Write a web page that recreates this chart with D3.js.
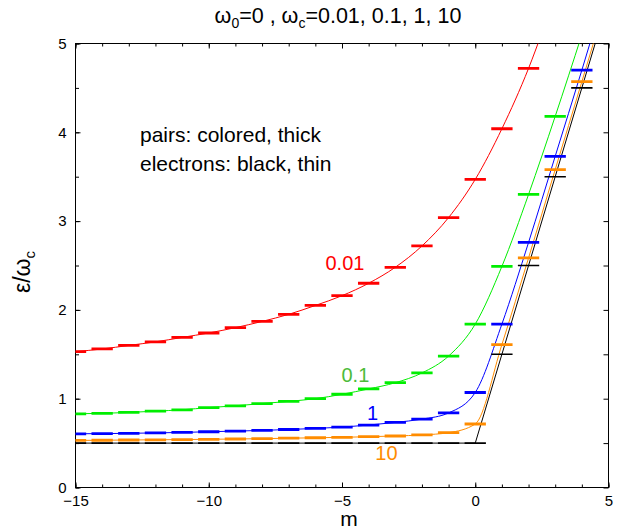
<!DOCTYPE html>
<html>
<head>
<meta charset="utf-8">
<script src="https://cdn.jsdelivr.net/npm/d3@7"></script>
<style>
  html, body { margin: 0; padding: 0; background: #fff; }
  svg text { font-family: "Liberation Sans", Arial, Helvetica, sans-serif; }
</style>
</head>
<body>
<svg id="chart" width="621" height="531"></svg>
<script>
// m values (angular momentum) and energies eps/omega_c
const mValues = [-15, -14, -13, -12, -11, -10, -9, -8, -7, -6, -5, -4, -3, -2, -1, 0, 1, 2, 3, 4, 5]

const pairs001 = [1.53, 1.56, 1.60, 1.64, 1.69, 1.74, 1.80, 1.87, 1.95, 2.05, 2.16, 2.30, 2.48, 2.72, 3.04, 3.47, 4.04, 4.72, 5.55, 6.45, 7.4]
const pairs01 = [0.83, 0.835, 0.845, 0.86, 0.875, 0.90, 0.92, 0.945, 0.97, 1.00, 1.05, 1.11, 1.18, 1.29, 1.48, 1.84, 2.49, 3.30, 4.18, 5.10, 6.05]
const pairs1 = [0.605, 0.607, 0.61, 0.615, 0.62, 0.628, 0.635, 0.643, 0.653, 0.665, 0.68, 0.703, 0.733, 0.77, 0.84, 1.07, 1.84, 2.76, 3.73, 4.70, 5.70]
const pairs10 = [0.53, 0.532, 0.535, 0.537, 0.54, 0.543, 0.546, 0.55, 0.555, 0.56, 0.565, 0.572, 0.58, 0.592, 0.617, 0.715, 1.61, 2.585, 3.58, 4.57, 5.57]
const electrons = [0.5, 0.5, 0.5, 0.5, 0.5, 0.5, 0.5, 0.5, 0.5, 0.5, 0.5, 0.5, 0.5, 0.5, 0.5, 0.5, 1.5, 2.5, 3.5, 4.5, 5.5]

const seriesNames = ["0.01", "0.1", "1", "10"]
const seriesColors = ["#ff0000", "#00ee00", "#0000ff", "#ff8c00"]
const labelColors = ["#ff0000", "#4cbb3a", "#0000ff", "#ff8c00"]
const xTicks = [-15, -10, -5, 0, 5]
const yTicks = [0, 1, 2, 3, 4, 5]

const margin = { top: 43.5, right: 12.5, bottom: 43.5, left: 75.5 }
const width = 621, height = 531

const svg = d3.select("#chart")

const x = d3.scaleLinear().domain([-15, 5]).range([margin.left, width - margin.right])
const y = d3.scaleLinear().domain([0, 5]).range([height - margin.bottom, margin.top])

svg.append("clipPath").attr("id", "plotclip")
	.append("rect")
	.attr("x", margin.left).attr("y", margin.top)
	.attr("width", x(5) - x(-15)).attr("height", y(0) - y(5))

// axes, ticks pointing inward
const tickFont = g => g.selectAll("text").style("font-size", "15px").style("font-family", "Liberation Sans, Arial, sans-serif")
const noDomain = g => g.select(".domain").remove()

svg.append("g")
	.attr("transform", `translate(0,${y(0)})`)
	.call(d3.axisBottom(x).tickValues(xTicks).tickSizeInner(-5).tickSizeOuter(0).tickPadding(8))
	.call(noDomain).call(tickFont)
svg.append("g")
	.attr("transform", `translate(0,${y(0)})`)
	.call(d3.axisBottom(x).tickValues(mValues).tickSizeInner(-3).tickSizeOuter(0).tickFormat(""))
	.call(noDomain)
svg.append("g")
	.attr("transform", `translate(0,${y(5)})`)
	.call(d3.axisTop(x).tickValues(xTicks).tickSizeInner(-5).tickSizeOuter(0).tickFormat(""))
	.call(noDomain)
svg.append("g")
	.attr("transform", `translate(0,${y(5)})`)
	.call(d3.axisTop(x).tickValues(mValues).tickSizeInner(-3).tickSizeOuter(0).tickFormat(""))
	.call(noDomain)

svg.append("g")
	.attr("transform", `translate(${x(-15)},0)`)
	.call(d3.axisLeft(y).tickValues(yTicks).tickFormat(d3.format("d")).tickSizeInner(-5).tickSizeOuter(0).tickPadding(9))
	.call(noDomain).call(tickFont)
svg.append("g")
	.attr("transform", `translate(${x(-15)},0)`)
	.call(d3.axisLeft(y).ticks(10).tickSizeInner(-3.5).tickSizeOuter(0).tickFormat(""))
	.call(noDomain)
svg.append("g")
	.attr("transform", `translate(${x(5)},0)`)
	.call(d3.axisRight(y).ticks(10).tickSizeInner(-5).tickSizeOuter(0).tickFormat(""))
	.call(noDomain)

svg.selectAll(".tick line").attr("stroke", "#000")

// frame
svg.append("rect")
	.attr("x", x(-15)).attr("y", y(5))
	.attr("width", x(5) - x(-15)).attr("height", y(0) - y(5))
	.attr("fill", "none").attr("stroke", "#000").attr("stroke-width", 1)

const plot = svg.append("g").attr("clip-path", "url(#plotclip)")

const allSeries = [pairs001, pairs01, pairs1, pairs10]

// thin curves
const curve = d3.line()
	.x((d, i) => x(mValues[i]))
	.y(d => y(d))
	.curve(d3.curveMonotoneX)

allSeries.forEach((vals, k) => {
	plot.append("path")
		.datum(vals)
		.attr("d", curve)
		.attr("fill", "none")
		.attr("stroke", seriesColors[k])
		.attr("stroke-width", 1)
})

plot.append("path")
	.datum(electrons)
	.attr("d", d3.line().x((d, i) => x(mValues[i])).y(d => y(d)))
	.attr("fill", "none")
	.attr("stroke", "#000")
	.attr("stroke-width", 1)

// short horizontal bars at each level
const halfW = 0.4
allSeries.forEach((vals, k) => {
	plot.append("g")
		.selectAll("line")
		.data(vals)
		.join("line")
		.attr("x1", (d, i) => x(mValues[i] - halfW))
		.attr("x2", (d, i) => x(mValues[i] + halfW))
		.attr("y1", d => y(d))
		.attr("y2", d => y(d))
		.attr("stroke", seriesColors[k])
		.attr("stroke-width", 2.8)
})

plot.append("g")
	.selectAll("line")
	.data(electrons)
	.join("line")
	.attr("x1", (d, i) => x(mValues[i] - halfW))
	.attr("x2", (d, i) => x(mValues[i] + halfW))
	.attr("y1", d => y(d))
	.attr("y2", d => y(d))
	.attr("stroke", "#000")
	.attr("stroke-width", 1.6)

// series labels
const labelPos = [[-5.62, 2.45], [-5.02, 1.19], [-4.06, 0.76], [-3.75, 0.31]]
seriesNames.forEach((name, k) => {
	svg.append("text")
		.attr("x", x(labelPos[k][0]))
		.attr("y", y(labelPos[k][1]))
		.attr("fill", labelColors[k])
		.style("font-size", "20px")
		.text(name)
})

// note
svg.append("text").attr("x", 140).attr("y", 141.5).style("font-size", "21px").text("pairs: colored, thick")
svg.append("text").attr("x", 140).attr("y", 170.5).style("font-size", "21px").text("electrons: black, thin")

// title
const title = svg.append("text")
	.attr("x", 338).attr("y", 23)
	.attr("text-anchor", "middle")
	.style("font-size", "21.5px")
title.append("tspan").text("ω")
title.append("tspan").attr("dy", 5).style("font-size", "14px").text("0")
title.append("tspan").attr("dy", -5).text("=0 , ω")
title.append("tspan").attr("dy", 5).style("font-size", "14px").text("c")
title.append("tspan").attr("dy", -5).text("=0.01, 0.1, 1, 10")

// axis labels
svg.append("text")
	.attr("x", 349).attr("y", 526)
	.attr("text-anchor", "middle")
	.style("font-size", "21px")
	.text("m")

const ylab = svg.append("text")
	.attr("transform", "translate(30,272) rotate(-90)")
	.attr("text-anchor", "middle")
	.style("font-size", "23px")
ylab.append("tspan").text("ε/ω")
ylab.append("tspan").attr("dy", 5).style("font-size", "15px").text("c")
</script>
</body>
</html>
